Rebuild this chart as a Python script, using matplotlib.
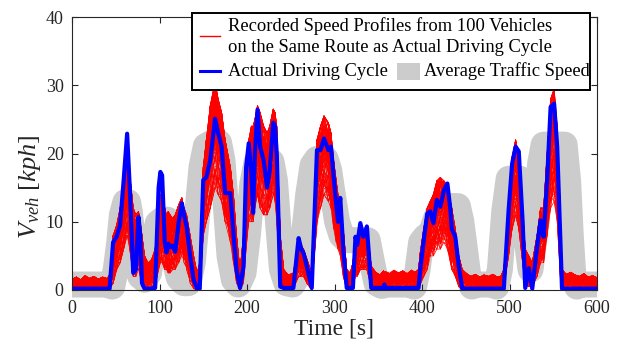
import numpy as np
import matplotlib
matplotlib.use("Agg")
import matplotlib.pyplot as plt
from matplotlib.lines import Line2D
from matplotlib.patches import Rectangle

plt.rcParams['font.family'] = ['Liberation Serif', 'DejaVu Serif']
plt.rcParams['mathtext.fontset'] = 'custom'
plt.rcParams['mathtext.rm'] = 'Liberation Serif'
plt.rcParams['mathtext.it'] = 'Liberation Serif:italic'

# ---------------- data ----------------
# time grid shared by actual cycle and recorded-profile envelopes [s]
time_s = [0, 5, 10, 15, 20, 25, 30, 35, 40, 43, 47, 51, 55, 59, 63, 66, 70, 73, 76, 78,
          80, 83, 87, 91, 95, 99, 101, 103, 106, 108, 110, 112, 115, 118, 122, 125.5, 128, 131, 135, 139,
          143, 146, 150, 153.5, 158, 163.5, 167, 171, 175, 181, 184.5, 188, 192, 196, 199, 202, 205, 207, 209, 212,
          215, 219, 223, 226, 230, 232, 234, 238, 242, 247, 253, 259, 262, 264.6, 268.5, 274, 280, 284, 288, 293,
          296, 299, 302, 304, 306.6, 310, 314, 318, 321, 324, 326, 329.5, 333, 337, 342, 347, 352, 356, 357, 358,
          363, 368, 373, 378, 383, 388, 392, 396, 398, 402, 406, 409.5, 413, 417, 421, 425, 429, 432.5, 434, 438,
          442, 446, 451, 456, 461, 466, 471, 476, 481, 486, 490, 493.5, 499, 503, 507, 510.6, 515, 518, 522, 526,
          531.5, 535.5, 539, 543, 547, 551, 554.5, 558, 560, 565, 570, 575, 580, 585, 590, 595, 600]

# actual driving cycle [kph]
actual_kph = [0.2, 0.2, 0.2, 0.2, 0.2, 0.2, 0.2, 0.2, 0.2, 0.2, 7.0, 7.8, 9.5, 16.0, 22.9, 15.0, 2.5, 3.0, 10.7, 8.0,
              1.0, 0.2, 0.2, 0.2, 0.3, 15.0, 17.3, 16.8, 7.0, 5.5, 6.8, 6.3, 6.5, 5.6, 10.0, 12.7, 11.0, 9.3, 5.0, 1.5,
              0.2, 0.2, 16.1, 16.5, 19.0, 25.1, 23.0, 21.0, 14.2, 14.2, 8.3, 3.0, 0.3, 3.4, 18.0, 21.5, 17.0, 11.3, 20.0, 26.4,
              21.0, 19.0, 15.0, 17.5, 24.5, 24.0, 20.0, 0.5, 0.3, 0.3, 0.3, 7.6, 6.0, 5.4, 3.4, 0.3, 20.5, 20.5, 22.2, 20.5,
              21.0, 16.6, 12.5, 10.0, 13.5, 6.0, 0.3, 0.3, 0.3, 7.8, 6.6, 9.8, 7.8, 9.3, 0.3, 0.3, 0.3, 0.3, 0.8, 0.3,
              0.3, 0.3, 0.3, 0.3, 0.3, 0.3, 0.3, 0.3, 3.0, 7.3, 11.2, 11.5, 9.8, 13.2, 12.2, 14.6, 15.6, 11.7, 9.0, 7.8,
              3.5, 0.2, 0.2, 0.2, 0.2, 0.2, 0.2, 0.2, 0.2, 0.2, 0.2, 0.2, 11.7, 18.5, 21.0, 20.3, 10.0, 0.3, 3.2, 0.2,
              6.3, 10.2, 7.8, 16.1, 26.8, 27.3, 21.0, 8.0, 0.2, 0.2, 0.2, 0.2, 0.2, 0.2, 0.2, 0.2, 0.2]

# lower / upper envelope of the 100 recorded speed profiles [kph]
recorded_low_kph = [0.0, 0.1, 0.0, 0.2, 0.0, 0.1, 0.0, 0.2, 0.1, 0.2, 1.0, 3.0, 4.0, 6.0, 8.0, 6.0, 2.0, 2.0, 3.0, 2.0,
                    0.5, 0.0, 0.0, 0.2, 0.5, 3.0, 4.0, 4.0, 3.0, 3.0, 2.5, 2.5, 3.0, 3.0, 4.0, 5.0, 4.0, 3.0, 1.0, 0.2,
                    0.0, 0.2, 8.0, 10.0, 12.0, 15.0, 14.0, 13.0, 10.0, 7.0, 4.0, 1.0, 0.0, 1.0, 6.0, 10.0, 10.0, 10.0, 12.0, 14.0,
                    12.0, 11.0, 11.0, 12.0, 14.0, 13.0, 10.0, 0.5, 0.0, 0.1, 0.2, 2.0, 2.0, 2.0, 1.0, 0.0, 10.0, 12.0, 14.0, 13.0,
                    12.0, 9.0, 7.0, 6.0, 5.0, 2.0, 0.0, 0.2, 0.5, 2.0, 2.0, 3.0, 3.0, 3.0, 0.3, 0.2, 0.4, 0.3, 0.3, 0.5,
                    0.3, 0.6, 0.4, 0.5, 0.3, 0.6, 0.4, 0.5, 0.8, 2.0, 3.0, 5.0, 5.0, 6.0, 6.0, 7.0, 6.0, 4.0, 3.0, 2.0,
                    0.5, 0.0, 0.2, 0.1, 0.3, 0.1, 0.2, 0.1, 0.3, 0.1, 0.2, 0.3, 5.0, 9.0, 11.0, 9.0, 4.0, 0.5, 0.5, 0.5,
                    2.0, 4.0, 4.0, 8.0, 12.0, 13.0, 10.0, 2.0, 0.0, 0.2, 0.1, 0.3, 0.1, 0.2, 0.1, 0.2, 0.1]
recorded_high_kph = [1.6, 1.9, 1.5, 2.1, 1.7, 2.0, 1.6, 1.9, 1.7, 2.2, 8.0, 9.5, 12.0, 16.0, 19.5, 17.0, 12.0, 11.0, 11.5, 10.0,
                     8.0, 5.0, 4.0, 4.5, 6.0, 12.0, 14.0, 13.0, 12.0, 11.0, 11.5, 11.0, 10.5, 11.0, 12.5, 13.5, 12.0, 11.0, 8.0, 5.0,
                     2.5, 4.0, 18.0, 22.0, 27.0, 30.5, 28.0, 26.0, 22.0, 18.0, 14.0, 8.0, 3.0, 8.0, 18.0, 22.0, 24.0, 24.0, 25.0, 27.0,
                     26.0, 24.0, 23.0, 24.0, 26.5, 26.0, 24.0, 8.0, 3.0, 2.2, 2.5, 7.5, 6.5, 6.0, 4.5, 2.5, 22.0, 24.0, 25.5, 24.5,
                     23.0, 19.0, 16.0, 14.0, 13.0, 9.0, 3.0, 2.5, 4.0, 7.5, 7.5, 9.5, 8.5, 9.5, 3.5, 2.6, 2.2, 2.8, 2.5, 2.7,
                     2.4, 2.9, 2.5, 2.8, 2.4, 2.9, 2.6, 3.0, 5.5, 9.0, 12.0, 13.0, 14.0, 16.0, 16.5, 16.0, 15.5, 13.0, 12.0, 9.0,
                     5.0, 3.0, 2.4, 2.0, 2.3, 1.9, 2.2, 2.0, 2.3, 1.9, 2.0, 3.0, 12.0, 19.5, 22.0, 19.5, 12.0, 6.0, 5.0, 4.0,
                     8.0, 12.0, 12.0, 20.0, 28.0, 29.5, 24.0, 12.0, 3.0, 2.3, 2.6, 2.2, 2.0, 2.4, 1.9, 2.1, 1.8]

# per-vehicle position inside the envelope, and a hand-typed wobble pattern
vehicle_level = [0.04, 0.12, 0.2, 0.27, 0.34, 0.4, 0.46, 0.51, 0.56, 0.6,
                 0.64, 0.68, 0.72, 0.75, 0.79, 0.83, 0.87, 0.91, 0.95, 0.99]
wobble = [0.3, -0.6, 0.9, -0.2, 0.5, -0.9, 0.1, 0.7, -0.4, 0.8, -0.7, 0.2, -0.3, 0.6, -0.8,
          0.4, -0.1, 0.9, -0.5, 0.0, 0.7, -0.9, 0.3, -0.6, 0.5, 0.8, -0.2, -0.7, 0.6, -0.4, 0.1]

# average traffic speed (centre of the thick grey band) [kph]
traffic_t = [0, 40, 46, 50, 54, 57, 61, 64, 66, 69, 73, 78, 83,
             88, 93, 98, 103, 109, 113, 117, 122, 128, 133,
             138, 143, 148, 153, 160, 168, 172, 176, 180, 185, 190,
             196, 201, 206, 211, 228, 232, 236, 240, 245, 252,
             260, 265, 270, 275, 280, 290, 294, 298, 303, 308, 314, 338, 343, 348, 354, 360,
             386, 391, 395, 399, 404, 410, 416, 422, 441, 445, 449, 453, 457, 463,
             481, 485, 489, 494, 499, 512, 516, 520, 524, 531, 535, 539, 563, 567, 570, 573, 577, 582, 600]
traffic_kph = [0.8, 0.8, 0.5, 3.0, 7.0, 11.0, 12.9, 12.9, 11.5, 8.0, 4.5, 2.0, 1.5,
               2.5, 6.5, 9.8, 10.3, 10.3, 8.5, 4.5, 1.8, 1.0, 1.0,
               4.0, 11.0, 18.0, 21.1, 21.6, 21.6, 19.0, 12.0, 5.0, 1.5, 0.8,
               2.5, 8.0, 15.5, 18.8, 18.8, 16.0, 9.0, 3.0, 1.0, 0.8,
               2.5, 8.0, 14.0, 18.3, 19.2, 19.2, 17.5, 14.0, 10.0, 8.0, 7.3, 7.3, 4.0, 1.0, 0.6, 0.8,
               0.8, 0.5, 3.0, 7.0, 7.8, 8.2, 10.5, 12.3, 12.3, 10.0, 6.0, 2.0, 0.5, 0.8,
               0.8, 0.5, 3.0, 11.5, 16.3, 16.3, 13.0, 7.0, 3.0, 10.0, 18.5, 21.3, 21.3, 16.0, 8.0, 2.0, 0.5, 0.8, 0.8]

x_ticks = [0, 100, 200, 300, 400, 500, 600]
y_ticks = [0, 10, 20, 30, 40]

# ---------------- figure ----------------
fig = plt.figure(figsize=(6.3, 3.45), dpi=100)
ax = fig.add_axes([72 / 630, 1 - 290 / 345, 525 / 630, 273 / 345])

ax.plot(traffic_t, traffic_kph, color='#cccccc', lw=18.7, solid_joinstyle='round',
        solid_capstyle='butt', clip_on=False, zorder=1)

t = np.array(time_s)
lo = np.array(recorded_low_kph)
hi = np.array(recorded_high_kph)
n = len(wobble)
idx = np.arange(len(t))
for k in range(100):
    base = vehicle_level[k % len(vehicle_level)]
    ph = (k // len(vehicle_level)) * 7 + k * 3
    w = base + 0.22 * np.array([wobble[(i * 5 + ph) % n] for i in idx])
    w = np.clip(w, 0.0, 1.0)
    ax.plot(t, lo + w * (hi - lo), color='red', lw=0.5, zorder=2)

ax.plot(time_s, actual_kph, color='blue', lw=3.0, solid_joinstyle='round', zorder=3)

ax.set_xlim(0, 600)
ax.set_ylim(0, 40)
ax.set_xticks(x_ticks)
ax.set_yticks(y_ticks)
ax.tick_params(direction='in', top=True, right=True, length=4, width=0.8,
               labelsize=13, colors='#262626')
ax.tick_params(axis='x', pad=7)
ax.tick_params(axis='y', pad=6)
for s in ax.spines.values():
    s.set_linewidth(0.8)
    s.set_color('#262626')
    s.set_zorder(4)

ax.set_xlabel('Time [s]', fontsize=17, labelpad=1, color='#262626')
ax.set_ylabel(r'$V_{veh}\ [kph]$', fontsize=19, color='#262626')
ax.yaxis.set_label_coords(-0.056, 0.377)

# ---------------- legend (drawn by hand) ----------------
tr = ax.transAxes
ax.add_patch(Rectangle((0.2286, 0.7326), 0.7581, 0.2821, transform=tr, fill=True,
                       facecolor='white', edgecolor='black', lw=1.4, clip_on=False, zorder=10))
ax.add_line(Line2D([0.2438, 0.2819], [0.930, 0.930], transform=tr, color='red', lw=1.0,
                   clip_on=False, zorder=11))
ax.text(0.297, 0.967, 'Recorded Speed Profiles from 100 Vehicles', transform=tr,
        fontsize=13.3, va='center', ha='left', zorder=11)
ax.text(0.297, 0.890, 'on the Same Route as Actual Driving Cycle', transform=tr,
        fontsize=13.3, va='center', ha='left', zorder=11)
ax.add_line(Line2D([0.2438, 0.2819], [0.802, 0.802], transform=tr, color='blue', lw=2.2,
                   clip_on=False, zorder=11))
ax.text(0.297, 0.802, 'Actual Driving Cycle', transform=tr,
        fontsize=13.3, va='center', ha='left', zorder=11)
ax.add_patch(Rectangle((0.619, 0.769), 0.044, 0.0625, transform=tr, facecolor='#cccccc',
                       edgecolor='none', clip_on=False, zorder=11))
ax.text(0.670, 0.802, 'Average Traffic Speed', transform=tr,
        fontsize=13.3, va='center', ha='left', zorder=11)

fig.savefig('out.png', dpi=100)
